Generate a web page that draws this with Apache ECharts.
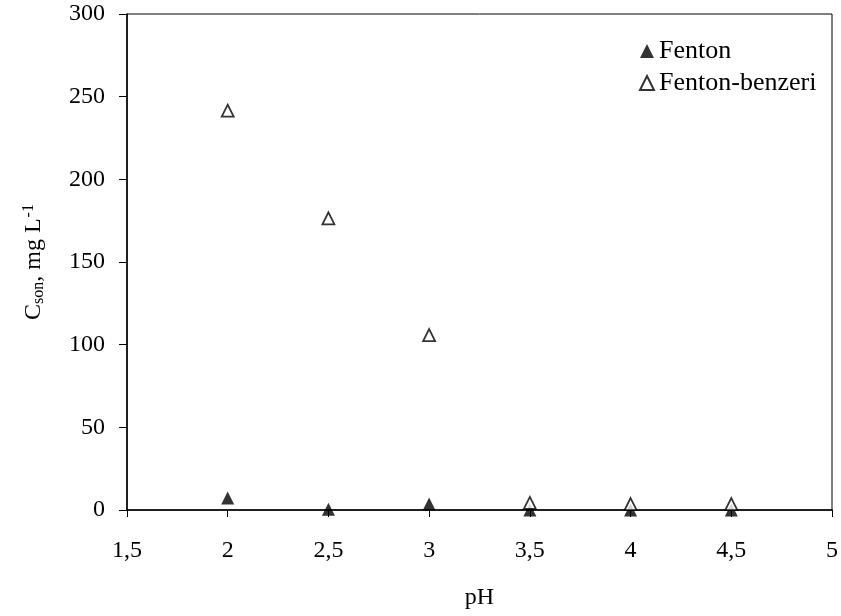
<!DOCTYPE html>
<html>
<head>
<meta charset="utf-8">
<script src="https://cdn.jsdelivr.net/npm/echarts@6/dist/echarts.min.js"></script>
<style>html,body{margin:0;padding:0;background:#fff}#c{width:841px;height:616px}</style>
</head>
<body>
<div id="c"></div>
<script>
const pH = [2, 2.5, 3, 3.5, 4, 4.5];
const fenton = [7.3, 0.4, 3.6, 0, 0, 0];
const fentonBenzeri = [241.5, 176.4, 105.8, 4.3, 3.6, 3.6];
const seriesNames = ['Fenton', 'Fenton-benzeri'];

const FONT = 'Liberation Serif';
const chart = echarts.init(document.getElementById('c'));
chart.setOption({
  backgroundColor: '#fff',
  animation: false,
  textStyle: { fontFamily: FONT, color: '#000' },
  grid: { left: 127, right: 8, top: 14, bottom: 106, containLabel: false,
    show: true, borderColor: '#000', borderWidth: 1, backgroundColor: 'transparent' },
  legend: {
    orient: 'vertical',
    left: 634,
    top: 33,
    itemWidth: 14,
    itemHeight: 14,
    itemGap: 6,
    icon: 'triangle',
    textStyle: { fontFamily: FONT, fontSize: 26, color: '#000', padding: [0, 0, 0, 0] },
    data: seriesNames
  },
  xAxis: {
    type: 'value',
    min: 1.5, max: 5, interval: 0.5,
    name: 'pH',
    nameLocation: 'middle',
    nameGap: 76,
    nameTextStyle: { fontFamily: FONT, fontSize: 24, color: '#000' },
    axisLine: { show: true, onZero: false, lineStyle: { color: '#000', width: 1.5 } },
    axisTick: { show: true, inside: false, length: 7, lineStyle: { color: '#000', width: 1 } },
    axisLabel: { margin: 29, fontFamily: FONT, fontSize: 24, color: '#000',
      formatter: v => String(v).replace('.', ',') },
    splitLine: { show: false }
  },
  yAxis: {
    type: 'value',
    min: 0, max: 300, interval: 50,
    name: '{a|C}{sub|son}{a|, mg L}{sup|-1}',
    nameLocation: 'middle',
    nameRotate: 90,
    nameGap: 78,
    nameTextStyle: {
      fontFamily: FONT, fontSize: 24, color: '#000',
      rich: {
        a: { fontFamily: FONT, fontSize: 24, color: '#000', lineHeight: 30, verticalAlign: 'middle' },
        sub: { fontFamily: FONT, fontSize: 16, color: '#000', lineHeight: 30, verticalAlign: 'bottom', padding: [0, 0, 2, 0] },
        sup: { fontFamily: FONT, fontSize: 16, color: '#000', lineHeight: 30, verticalAlign: 'top', padding: [2, 0, 0, 1] }
      }
    },
    axisLine: { show: true, lineStyle: { color: '#000', width: 1.5 } },
    axisTick: { show: true, inside: false, length: 8, lineStyle: { color: '#000', width: 1 } },
    axisLabel: { margin: 22, fontFamily: FONT, fontSize: 24, color: '#000' },
    splitLine: { show: false }
  },
  series: [
    {
      name: seriesNames[0],
      type: 'scatter',
      symbol: 'triangle',
      symbolSize: 13,
      itemStyle: { color: '#000' },
      data: pH.map((x, i) => [x, fenton[i]])
    },
    {
      name: seriesNames[1],
      type: 'scatter',
      symbol: 'triangle',
      symbolSize: 12,
      itemStyle: { color: '#fff', borderColor: '#000', borderWidth: 1.8 },
      data: pH.map((x, i) => [x, fentonBenzeri[i]])
    }
  ]
});
</script>
</body>
</html>
